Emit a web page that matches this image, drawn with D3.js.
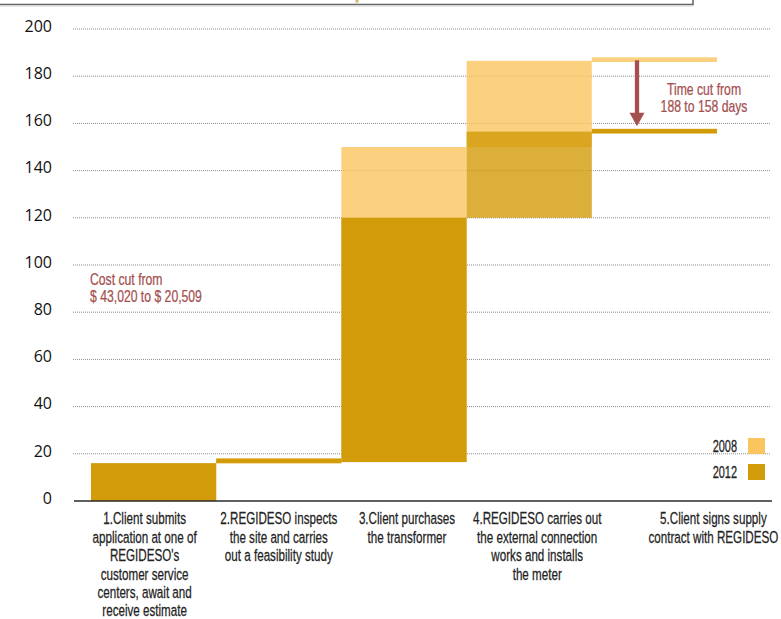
<!DOCTYPE html>
<html>
<head>
<meta charset="utf-8">
<script src="https://cdn.jsdelivr.net/npm/d3@7"></script>
<style>
  html, body { margin: 0; padding: 0; background: #fff; }
  svg { display: block; }
  .cond { font-family: "Liberation Sans", Arial, sans-serif; }
</style>
</head>
<body>
<svg id="chart" width="781" height="619"></svg>
<script>
// ---- data ----
const steps = [
  ["1.Client submits", "application at one of", "REGIDESO's", "customer service", "centers, await and", "receive estimate"],
  ["2.REGIDESO inspects", "the site and carries", "out a feasibility study"],
  ["3.Client purchases", "the transformer"],
  ["4.REGIDESO carries out", "the external connection", "works and installs", "the meter"],
  ["5.Client signs supply", "contract with REGIDESO"]
];
const stepIds = ["s1", "s2", "s3", "s4", "s5"];
// cumulative days (start / end of each step)
const start2008 = [0, 16, 16.5, 150, 186];
const end2008   = [16, 18, 150, 186.5, 188];
const start2012 = [0, 16, 16.5, 120, 155.7];
const end2012   = [16, 18, 120, 156.5, 157.7];
const yTicks = [0, 20, 40, 60, 80, 100, 120, 140, 160, 180, 200];
const legendYears = ["2008", "2012"];
const costNote = ["Cost cut from", "$ 43,020 to $ 20,509"];
const timeNote = ["Time cut from", "188 to 158 days"];

// ---- drawing ----
const svg = d3.select("#chart");
const c2008 = "#FAC45F", c2012 = "#D29B09", noteColor = "#A5504F";

const x = d3.scaleBand().domain(stepIds).range([91, 717]).padding(0);
const y = d3.scaleLinear().domain([0, 200]).range([501, 29]);

// horizontal condensing factors so the sans font looks like a condensed face
function measure(str, size) {
  const p = svg.append("text").attr("class", "cond").attr("font-size", size).text(str);
  const w = p.node().getComputedTextLength();
  p.remove();
  return w;
}
const K = 130 / measure("contract with REGIDESO", 17);
const KN = 112 / measure("$ 43,020 to $ 20,509", 16);

function condText(g, cx, y0, lines, lh, anchor, size, color, k) {
  const t = g.append("text").attr("class", "cond")
    .attr("transform", `translate(${cx},0) scale(${k},1)`)
    .attr("text-anchor", anchor).attr("font-size", size).attr("fill", color)
    .attr("stroke", color).attr("stroke-width", 0.25);
  lines.forEach((ln, j) => t.append("tspan").attr("x", 0).attr("y", y0 + j * lh).text(ln));
  return t;
}

// title box remnant at top
svg.append("rect").attr("x", -4).attr("y", -30).attr("width", 697).attr("height", 34.5)
  .attr("fill", "none").attr("stroke", "#6a6a6a").attr("stroke-width", 1.6);
svg.append("line").attr("x1", 0).attr("x2", 693).attr("y1", 6).attr("y2", 6)
  .attr("stroke", "#d5d5d5").attr("stroke-width", 1);
svg.append("rect").attr("x", 355.5).attr("y", 0).attr("width", 3).attr("height", 2.5).attr("fill", "#D9B07A");

// gridlines
svg.append("g").selectAll("line").data(yTicks.filter(d => d > 0)).join("line")
  .attr("x1", 73).attr("x2", 770)
  .attr("y1", d => y(d)).attr("y2", d => y(d))
  .attr("stroke", "#8a8a8a").attr("stroke-width", 1).attr("stroke-dasharray", "1,1");

// tick labels
svg.append("g").selectAll("text").data(yTicks).join("text")
  .attr("x", 52).attr("y", d => y(d) + 2.8)
  .attr("text-anchor", "end")
  .attr("font-family", "'Open Sans', sans-serif").attr("font-size", 16).attr("fill", "#111")
  .text(d => d);

// 2008 bars
svg.append("g").selectAll("rect").data(stepIds).join("rect")
  .attr("x", d => x(d)).attr("width", x.bandwidth())
  .attr("y", (d, i) => y(end2008[i]))
  .attr("height", (d, i) => y(start2008[i]) - y(end2008[i]))
  .attr("fill", c2008).attr("fill-opacity", 0.8);

// 2012 bars
svg.append("g").selectAll("rect").data(stepIds).join("rect")
  .attr("x", d => x(d)).attr("width", x.bandwidth())
  .attr("y", (d, i) => y(end2012[i]))
  .attr("height", (d, i) => y(start2012[i]) - y(end2012[i]))
  .attr("fill", c2012).attr("fill-opacity", (d, i) => i === 3 ? 0.8 : 1);

// x axis line
svg.append("line").attr("x1", 74).attr("x2", 772).attr("y1", y(0)).attr("y2", y(0))
  .attr("stroke", "#2a2a2a").attr("stroke-width", 1.6);

// category labels
const labelShift = [-9, 0, 3, 8, 59];
const lab = svg.append("g");
steps.forEach((lines, i) => {
  const cx = x(stepIds[i]) + x.bandwidth() / 2 + labelShift[i];
  condText(lab, cx, 524.5, lines, 18.4, "middle", 17, "#222", K);
});

// legend
legendYears.forEach((yr, i) => {
  const ly = 438 + i * 26;
  svg.append("rect").attr("x", 748).attr("y", ly).attr("width", 17).attr("height", 16)
    .attr("fill", i === 0 ? c2008 : c2012);
  condText(svg, 737, ly + 14.5, [yr], 0, "end", 16, "#222", K);
});

// cost note
condText(svg, 90, 285, costNote, 17, "start", 16, noteColor, KN);

// time note
condText(svg, 704, 95, timeNote, 17, "middle", 16, noteColor, KN);

// arrow from 2008 total to 2012 total
const ax = 637;
const yTop = y(end2008[4]) + 3, yTip = y(end2012[4]) - 2.5;
svg.append("line").attr("x1", ax).attr("x2", ax).attr("y1", yTop).attr("y2", yTip - 12)
  .attr("stroke", noteColor).attr("stroke-width", 4.3);
svg.append("path")
  .attr("d", `M${ax - 7.5},${yTip - 13.5} L${ax + 7.5},${yTip - 13.5} L${ax},${yTip} Z`)
  .attr("fill", noteColor);
</script>
</body>
</html>
